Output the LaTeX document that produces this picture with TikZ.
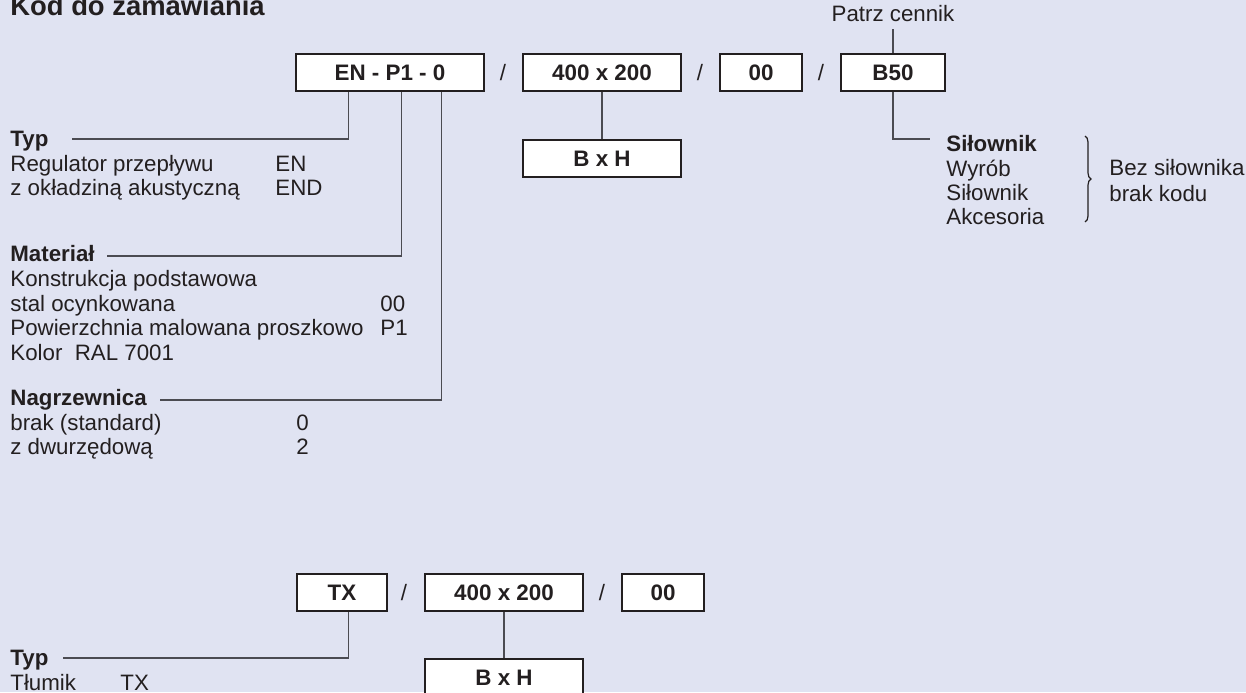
\documentclass[tikz,border=0pt]{standalone}
\usepackage{fontspec}
\setmainfont{Liberation Sans}
\usetikzlibrary{calc,positioning,decorations.pathreplacing}
\definecolor{bgblue}{RGB}{224,227,242}
\definecolor{txt}{RGB}{35,31,32}
\definecolor{wire}{RGB}{75,75,82}

\begin{document}
\begin{tikzpicture}[x=0.5pt,y=-0.5pt,
                    every node/.style={text=txt, inner sep=0pt, font=\fontsize{11.15}{13}\selectfont},
                    code/.style={draw=txt, line width=0.75pt, fill=white, minimum height=18.5pt, font=\fontsize{11.2}{13}\selectfont\bfseries},
                    lbl/.style={anchor=base west},
                    head/.style={anchor=base west, font=\fontsize{11.15}{13}\selectfont\bfseries},
                    conn/.style={draw=wire, line width=0.65pt}]
                    \fill[bgblue] (0,0) rectangle (1246,692);
                    \useasboundingbox (0,0) rectangle (1246,692);
                    \node[head, font=\fontsize{13.7}{16}\selectfont\bfseries] (title) at (10,15) {Kod do zamawiania};
                    % upper code
                    \node[code, minimum width=94pt] (enA) at (390,72.5) {EN - P1 - 0};
                    \node (slA1) at (503,72.5) {/};
                    \node[code, minimum width=79pt] (dimA) at (602,72.5) {400 x 200};
                    \node (slA2) at (700,72.5) {/};
                    \node[code, minimum width=41pt] (ooA) at (761,72.5) {00};
                    \node (slA3) at (821,72.5) {/};
                    \node[code, minimum width=52pt] (b50) at (893,72.5) {B50};
                    \node[code, minimum width=79pt] (bhA) at (602,158.5) {B x H};
                    \node[anchor=south, inner sep=3.5pt] (cennik) at ($(b50.north)+(0,-24)$) {Patrz cennik};
                    \draw[conn] (cennik) -- (b50);
                    \draw[conn] (dimA) -- (bhA);
                    \coordinate (typA-in) at ($(enA.south west)+(53,0)$);
                    \coordinate (matA-in) at ($(enA.south west)+(106,0)$);
                    \coordinate (nagA-in) at ($(enA.south west)+(146,0)$);
                    \coordinate (typA-out) at (72,139);
                    \coordinate (matA-out) at (107,256);
                    \coordinate (nagA-out) at (160,400);
                    \coordinate (silA-out) at (930,139);
                    \draw[conn] (typA-out) -| (typA-in);
                    \draw[conn] (matA-out) -| (matA-in);
                    \draw[conn] (nagA-out) -| (nagA-in);
                    \draw[conn] (b50) |- (silA-out);
                    % Typ
                    \node[head] (typA) at (10,146) {Typ};
                    \node[lbl] (regA) at (10,171) {Regulator przepływu};
                    \node[lbl] (regAc) at (275,171) {EN};
                    \node[lbl] (oklA) at (10,195) {z okładziną akustyczną};
                    \node[lbl] (oklAc) at (275,195) {END};
                    % Material
                    \node[head] (matA) at (10,261) {Materiał};
                    \node[lbl] (konA) at (10,286) {Konstrukcja podstawowa};
                    \node[lbl] (stalA) at (10,311) {stal ocynkowana};
                    \node[lbl] (stalAc) at (380,311) {00};
                    \node[lbl] (powA) at (10,335) {Powierzchnia malowana proszkowo};
                    \node[lbl] (powAc) at (380,335) {P1};
                    \node[lbl] (kolA) at (10,360) {Kolor~ RAL 7001};
                    % Nagrzewnica
                    \node[head] (nagA) at (10,405) {Nagrzewnica};
                    \node[lbl] (brakA) at (10,430) {brak (standard)};
                    \node[lbl] (brakAc) at (296,430) {0};
                    \node[lbl] (dwuA) at (10,454) {z dwurzędową};
                    \node[lbl] (dwuAc) at (296,454) {2};
                    % Silownik
                    \node[head] (silA) at (946,151) {Siłownik};
                    \node[lbl] (wyrA) at (946,176) {Wyrób};
                    \node[lbl] (sil2A) at (946,200) {Siłownik};
                    \node[lbl] (akcA) at (946,224) {Akcesoria};
                    \coordinate (brTop) at (1085,136);
                    \coordinate (brBot) at (1085,222);
                    \draw[txt, line width=0.6pt, decorate, decoration={brace, amplitude=3pt}] (brTop) -- (brBot);
                    \node[lbl] (bezA) at (1109,175) {Bez siłownika};
                    \node[lbl] (kodA) at (1109,201) {brak kodu};
                    % lower code
                    \node[code, minimum width=45pt] (txB) at (342,592.5) {TX};
                    \node (slB1) at (404,592.5) {/};
                    \node[code, minimum width=79pt] (dimB) at (504,592.5) {400 x 200};
                    \node (slB2) at (602,592.5) {/};
                    \node[code, minimum width=41pt] (ooB) at (663,592.5) {00};
                    \node[code, minimum width=79pt] (bhB) at (504,677.5) {B x H};
                    \draw[conn] (dimB) -- (bhB);
                    \coordinate (typB-in) at ($(txB.south west)+(52,0)$);
                    \coordinate (typB-out) at (63,658);
                    \draw[conn] (typB-out) -| (typB-in);
                    \node[head] (typB) at (10,665) {Typ};
                    \node[lbl] (tlmB) at (10,690) {Tłumik};
                    \node[lbl] (tlmBc) at (120,690) {TX};
                \end{tikzpicture}
\end{document}
